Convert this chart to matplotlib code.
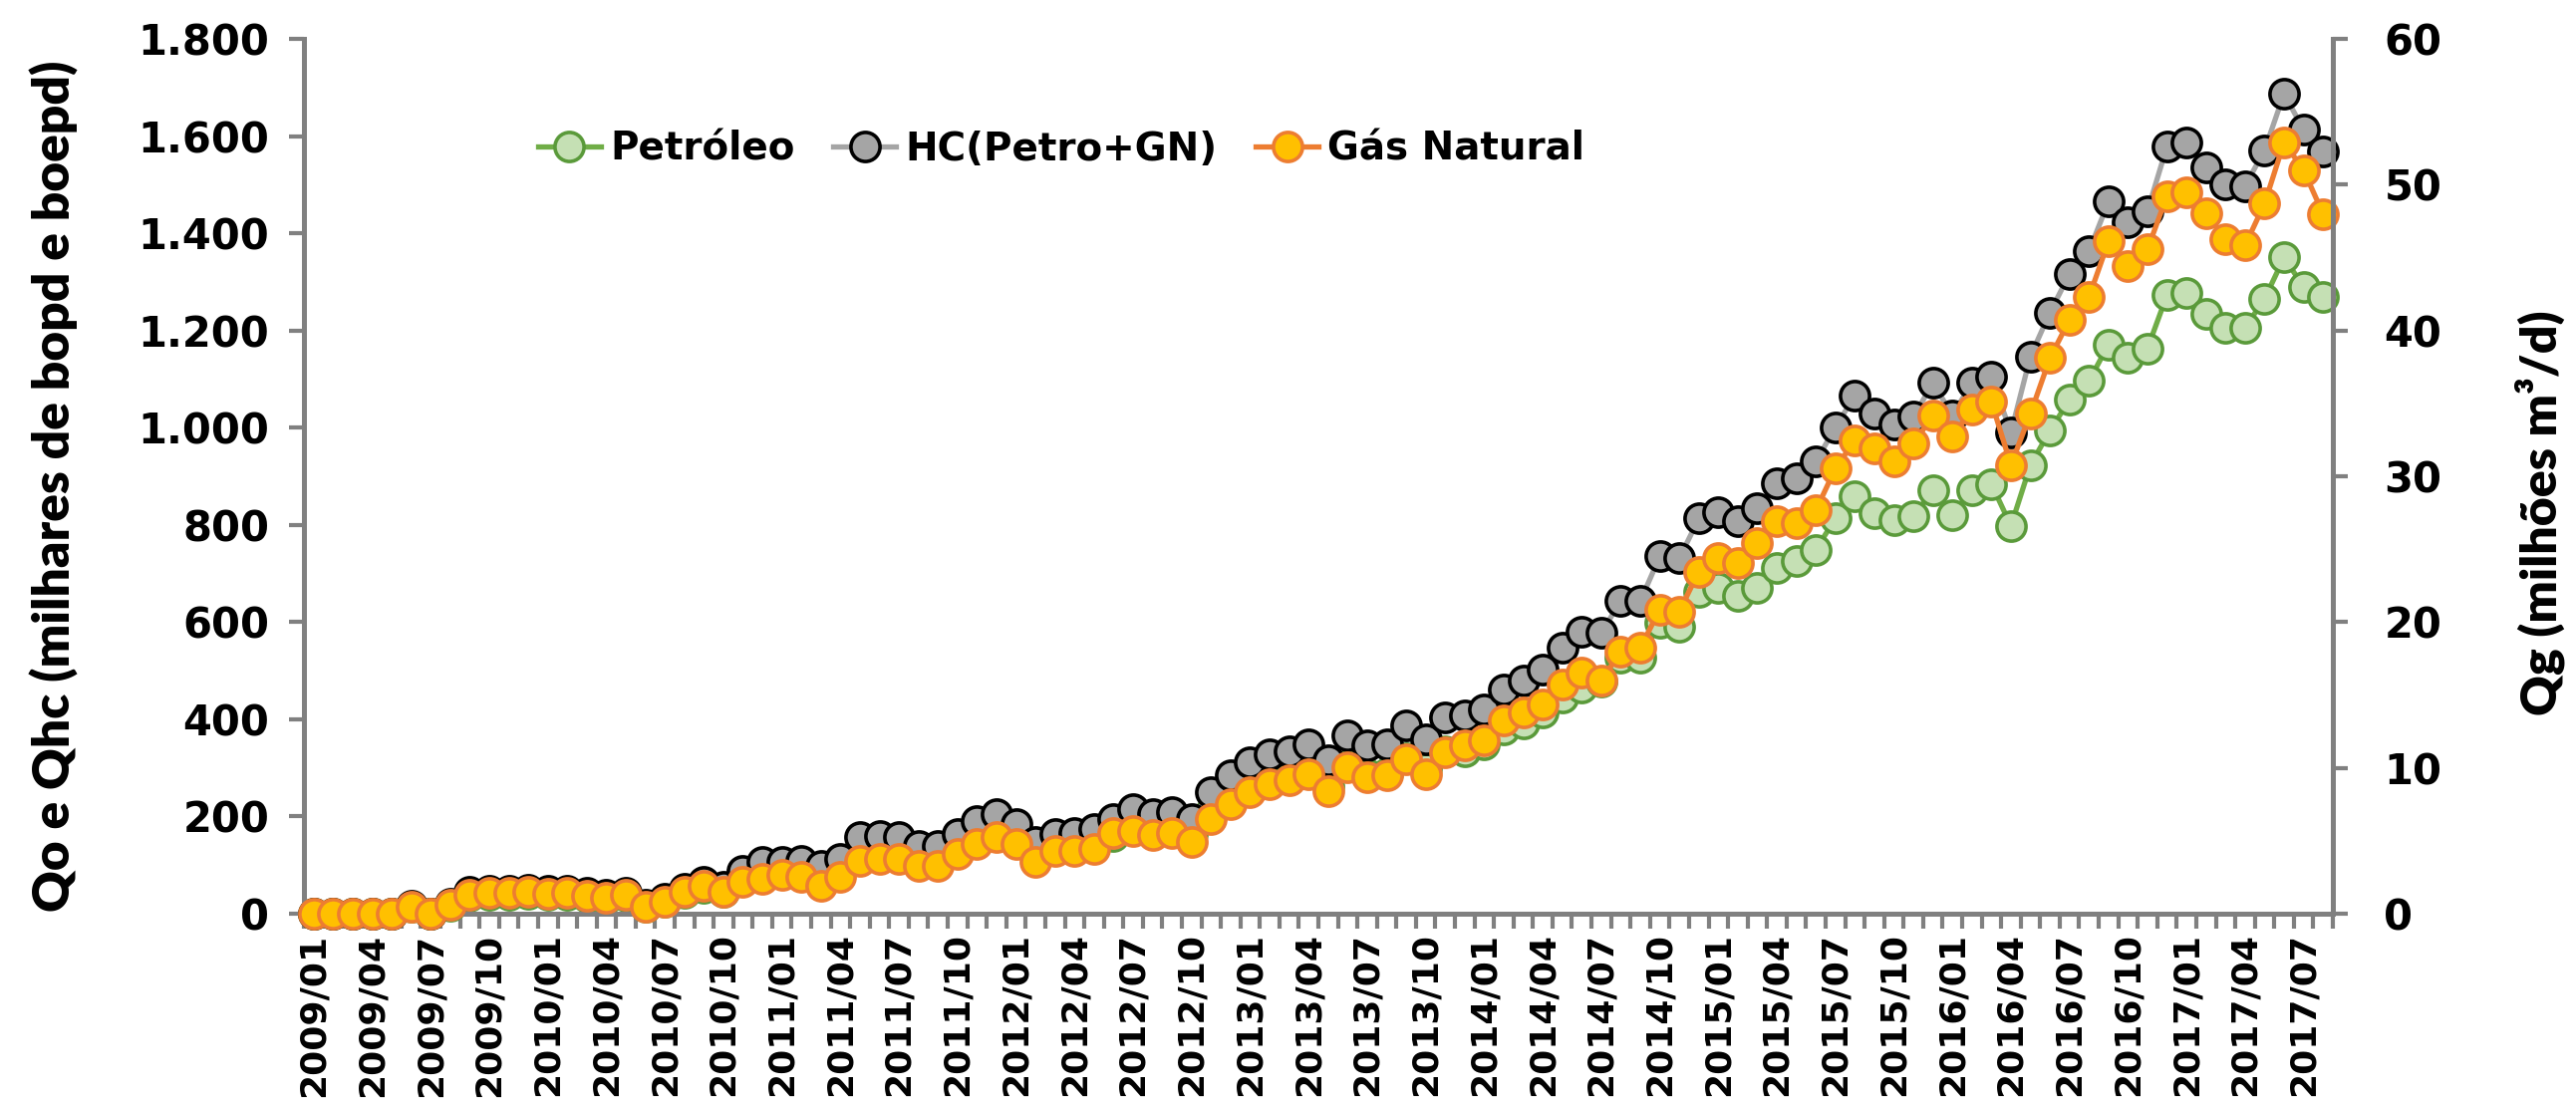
import numpy as np
import matplotlib
matplotlib.use("Agg")
import matplotlib.pyplot as plt
from matplotlib.ticker import FixedLocator, FuncFormatter

plt.rcParams["font.family"] = "DejaVu Sans"
plt.rcParams["font.weight"] = "bold"

# monthly categories 2009/01 .. 2017/08
months = [f"{y}/{m:02d}" for y in range(2009, 2018) for m in range(1, 13)][:104]

# Petróleo (mil bopd)
petroleo = [0, 0, 0, 0, 0, 14, 0, 17, 37, 39, 39, 41, 38, 38, 35, 31, 36, 15, 25, 43,
            53, 46, 75, 91, 89, 93, 87, 97, 134, 136, 133, 119, 119, 138, 161, 172, 154, 125, 137, 140,
            147, 160, 180, 172, 174, 164, 209, 237, 259, 273, 277, 289, 262, 303, 287, 289, 320, 299, 334, 334,
            349, 379, 392, 414, 445, 465, 478, 527, 527, 598, 591, 663, 670, 653, 670, 711, 725, 749, 813, 858,
            824, 810, 817, 872, 821, 872, 884, 798, 923, 994, 1057, 1096, 1171, 1143, 1163, 1273, 1277, 1234, 1206, 1206,
            1265, 1350, 1290, 1268]

# HC (Petro+GN) (mil boepd)
hc = [0, 0, 0, 0, 0, 17, 0, 21, 45, 48, 48, 50, 47, 47, 43, 38, 44, 18, 30, 52,
      65, 55, 89, 106, 106, 109, 99, 113, 157, 160, 157, 140, 140, 164, 191, 205, 184, 147, 164, 167,
      175, 195, 216, 206, 209, 195, 250, 284, 311, 329, 335, 349, 315, 366, 346, 349, 387, 359, 404, 407,
      420, 462, 479, 503, 547, 581, 578, 643, 643, 735, 731, 813, 827, 807, 834, 885, 895, 930, 1001, 1066,
      1029, 1006, 1022, 1092, 1026, 1092, 1104, 990, 1147, 1237, 1316, 1363, 1465, 1422, 1446, 1579, 1587, 1536, 1500, 1497,
      1571, 1687, 1613, 1569]

# Gás Natural (milhões m3/d)
gas = [0, 0, 0, 0, 0, 0.47, 0, 0.6, 1.3, 1.4, 1.4, 1.5, 1.37, 1.4, 1.23, 1.07, 1.3, 0.5, 0.83, 1.5,
       1.93, 1.5, 2.17, 2.4, 2.63, 2.5, 1.93, 2.5, 3.63, 3.77, 3.77, 3.3, 3.3, 4.1, 4.77, 5.23, 4.77, 3.53, 4.33, 4.33,
       4.47, 5.5, 5.7, 5.37, 5.5, 4.93, 6.5, 7.53, 8.33, 8.9, 9.13, 9.6, 8.43, 10.03, 9.37, 9.47, 10.6, 9.6, 11.07, 11.53,
       11.9, 13.23, 13.8, 14.37, 15.73, 16.53, 15.97, 18.0, 18.23, 20.87, 20.73, 23.47, 24.37, 24.03, 25.4, 26.9, 26.77, 27.67, 30.53, 32.47,
       31.9, 31.03, 32.23, 34.17, 32.73, 34.57, 35.1, 30.77, 34.3, 38.1, 40.73, 42.3, 46.1, 44.4, 45.57, 49.23, 49.5, 48.07, 46.23, 45.83,
       48.7, 52.9, 51.0, 48.0]

x = np.arange(len(months))
axis_gray = "#808080"

fig = plt.figure(figsize=(25.85, 11.08), dpi=100)
ax = fig.add_axes([0.118, 0.1724, 0.7876, 0.7924])
ax2 = ax.twinx()

ms, mew, lw = 21, 2.6, 3.8
l1, = ax.plot(x, petroleo, color="#70AD47", lw=lw, marker="o", ms=ms, mfc="#C5E0B4",
              mec="#5A9A3A", mew=mew, label="Petróleo", clip_on=False)
l2, = ax.plot(x, hc, color="#A5A5A5", lw=lw, marker="o", ms=ms, mfc="#A5A5A5",
              mec="black", mew=mew, label="HC(Petro+GN)", clip_on=False)
l3, = ax2.plot(x, gas, color="#ED7D31", lw=lw, marker="o", ms=ms, mfc="#FFC000",
               mec="#ED7D31", mew=mew, label="Gás Natural", clip_on=False)

ax.set_xlim(-0.5, len(months) - 0.5)
ax.set_ylim(0, 1800)
ax2.set_ylim(0, 60)

ax.set_yticks(range(0, 1801, 200))
ax.yaxis.set_major_formatter(FuncFormatter(lambda v, p: f"{int(v):,}".replace(",", ".")))
ax2.set_yticks(range(0, 61, 10))

ax.set_xticks(x[::3])
ax.set_xticklabels(months[::3], rotation=90)
ax.xaxis.set_minor_locator(FixedLocator(np.arange(-0.5, len(months), 1)))

for a in (ax, ax2):
    for s in a.spines.values():
        s.set_visible(False)
ax.spines["left"].set_visible(True)
ax.spines["bottom"].set_visible(True)
ax2.spines["right"].set_visible(True)
for s in (ax.spines["left"], ax.spines["bottom"], ax2.spines["right"]):
    s.set_color(axis_gray)
    s.set_linewidth(3.6)

ax.tick_params(axis="y", direction="out", length=11, width=3, color=axis_gray, pad=14, labelsize=30)
ax2.tick_params(axis="y", direction="out", length=11, width=3, color=axis_gray, pad=26, labelsize=30)
ax.tick_params(axis="x", which="major", length=0, pad=14, labelsize=26)
ax.tick_params(axis="x", which="minor", direction="out", length=11, width=3, color=axis_gray)

ax2.legend(handles=[l1, l2, l3], loc="center left", bbox_to_anchor=(0.106, 0.874),
           frameon=False, ncol=3, fontsize=28, handlelength=1.6, handletextpad=0.25,
           columnspacing=1.0, borderpad=0)

fig.text(54 / 2585, 1 - 488 / 1108, "Qo e Qhc (milhares de bopd e boepd)", rotation=90,
         family="Lato", weight="heavy", fontsize=37, ha="center", va="center")
fig.text(2549 / 2585, 1 - 515 / 1108, "Qg (milhões m³/d)", rotation=90,
         family="Lato", weight="heavy", fontsize=36, ha="center", va="center")

fig.savefig("out.png", dpi=100)
